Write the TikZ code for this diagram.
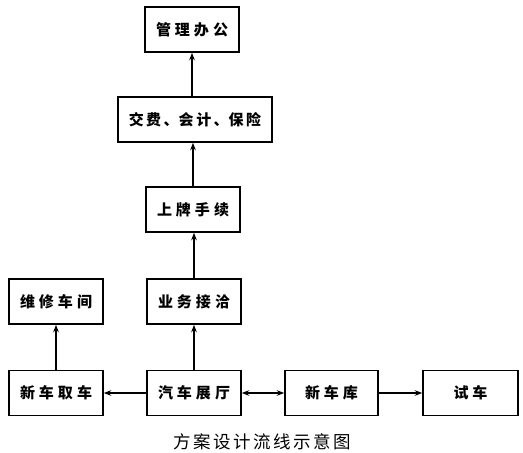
\documentclass[tikz,border=0pt]{standalone}
\usepackage{fontspec}
\newfontfamily\cjk{Noto Sans CJK SC}
\usetikzlibrary{arrows.meta}
\tikzset{
  box/.style={draw, line width=1.5pt, minimum height=45pt, minimum width=94pt, inner sep=0pt, font=\cjk\bfseries\fontsize{15pt}{15pt}\selectfont},
  conn/.style={line width=1.3pt, -{Stealth[length=7.5pt,width=5.5pt]}},
  dconn/.style={line width=1.3pt, {Stealth[length=7.5pt,width=5.5pt]}-{Stealth[length=7.5pt,width=5.5pt]}}
}
\newcommand{\gp}{\hspace{4pt}}
\newcommand{\gq}{\hspace{2.5pt}}
\begin{document}
\begin{tikzpicture}[x=1pt,y=-1pt]
\useasboundingbox (0,0) rectangle (523,453);
\node[box] (guanli) at (192,29.5) {管\gp 理\gp 办\gp 公};
\node[box, minimum width=154pt] (jiaofei) at (195,119.5) {交\gq 费\gq 、会\gq 计\gq 、保\gq 险};
\node[box] (shangpai) at (193,209.5) {上\gp 牌\gp 手\gp 续};
\node[box] (yewu) at (194,301.5) {业\gp 务\gp 接\gp 洽};
\node[box] (weixiu) at (56,301.5) {维\gp 修\gp 车\gp 间};
\node[box] (quche) at (56,393) {新\gp 车\gp 取\gp 车};
\node[box] (zhanting) at (194,393) {汽\gp 车\gp 展\gp 厅};
\node[box, minimum width=93pt] (cheku) at (331.5,393) {新\gp 车\gp 库};
\node[box, minimum width=95pt] (shiche) at (470.5,393) {试\gp 车};
\node[font=\cjk\fontsize{17.5pt}{17.5pt}\selectfont] (caption) at (262,442) {方\hspace{2.5pt}案\hspace{2.5pt}设\hspace{2.5pt}计\hspace{2.5pt}流\hspace{2.5pt}线\hspace{2.5pt}示\hspace{2.5pt}意\hspace{2.5pt}图};
\draw[conn] (jiaofei.north -| guanli.south) -- (guanli.south);
\draw[conn] (shangpai.north) -- (shangpai.north |- jiaofei.south);
\draw[conn] (yewu.north) -- (yewu.north |- shangpai.south);
\draw[conn] (zhanting.north) -- (yewu.south);
\draw[conn] (quche.north) -- (weixiu.south);
\draw[conn] (zhanting.west) -- (quche.east);
\draw[dconn] (zhanting.east) -- (cheku.west);
\draw[conn] (cheku.east) -- (shiche.west);
\end{tikzpicture}
\end{document}
